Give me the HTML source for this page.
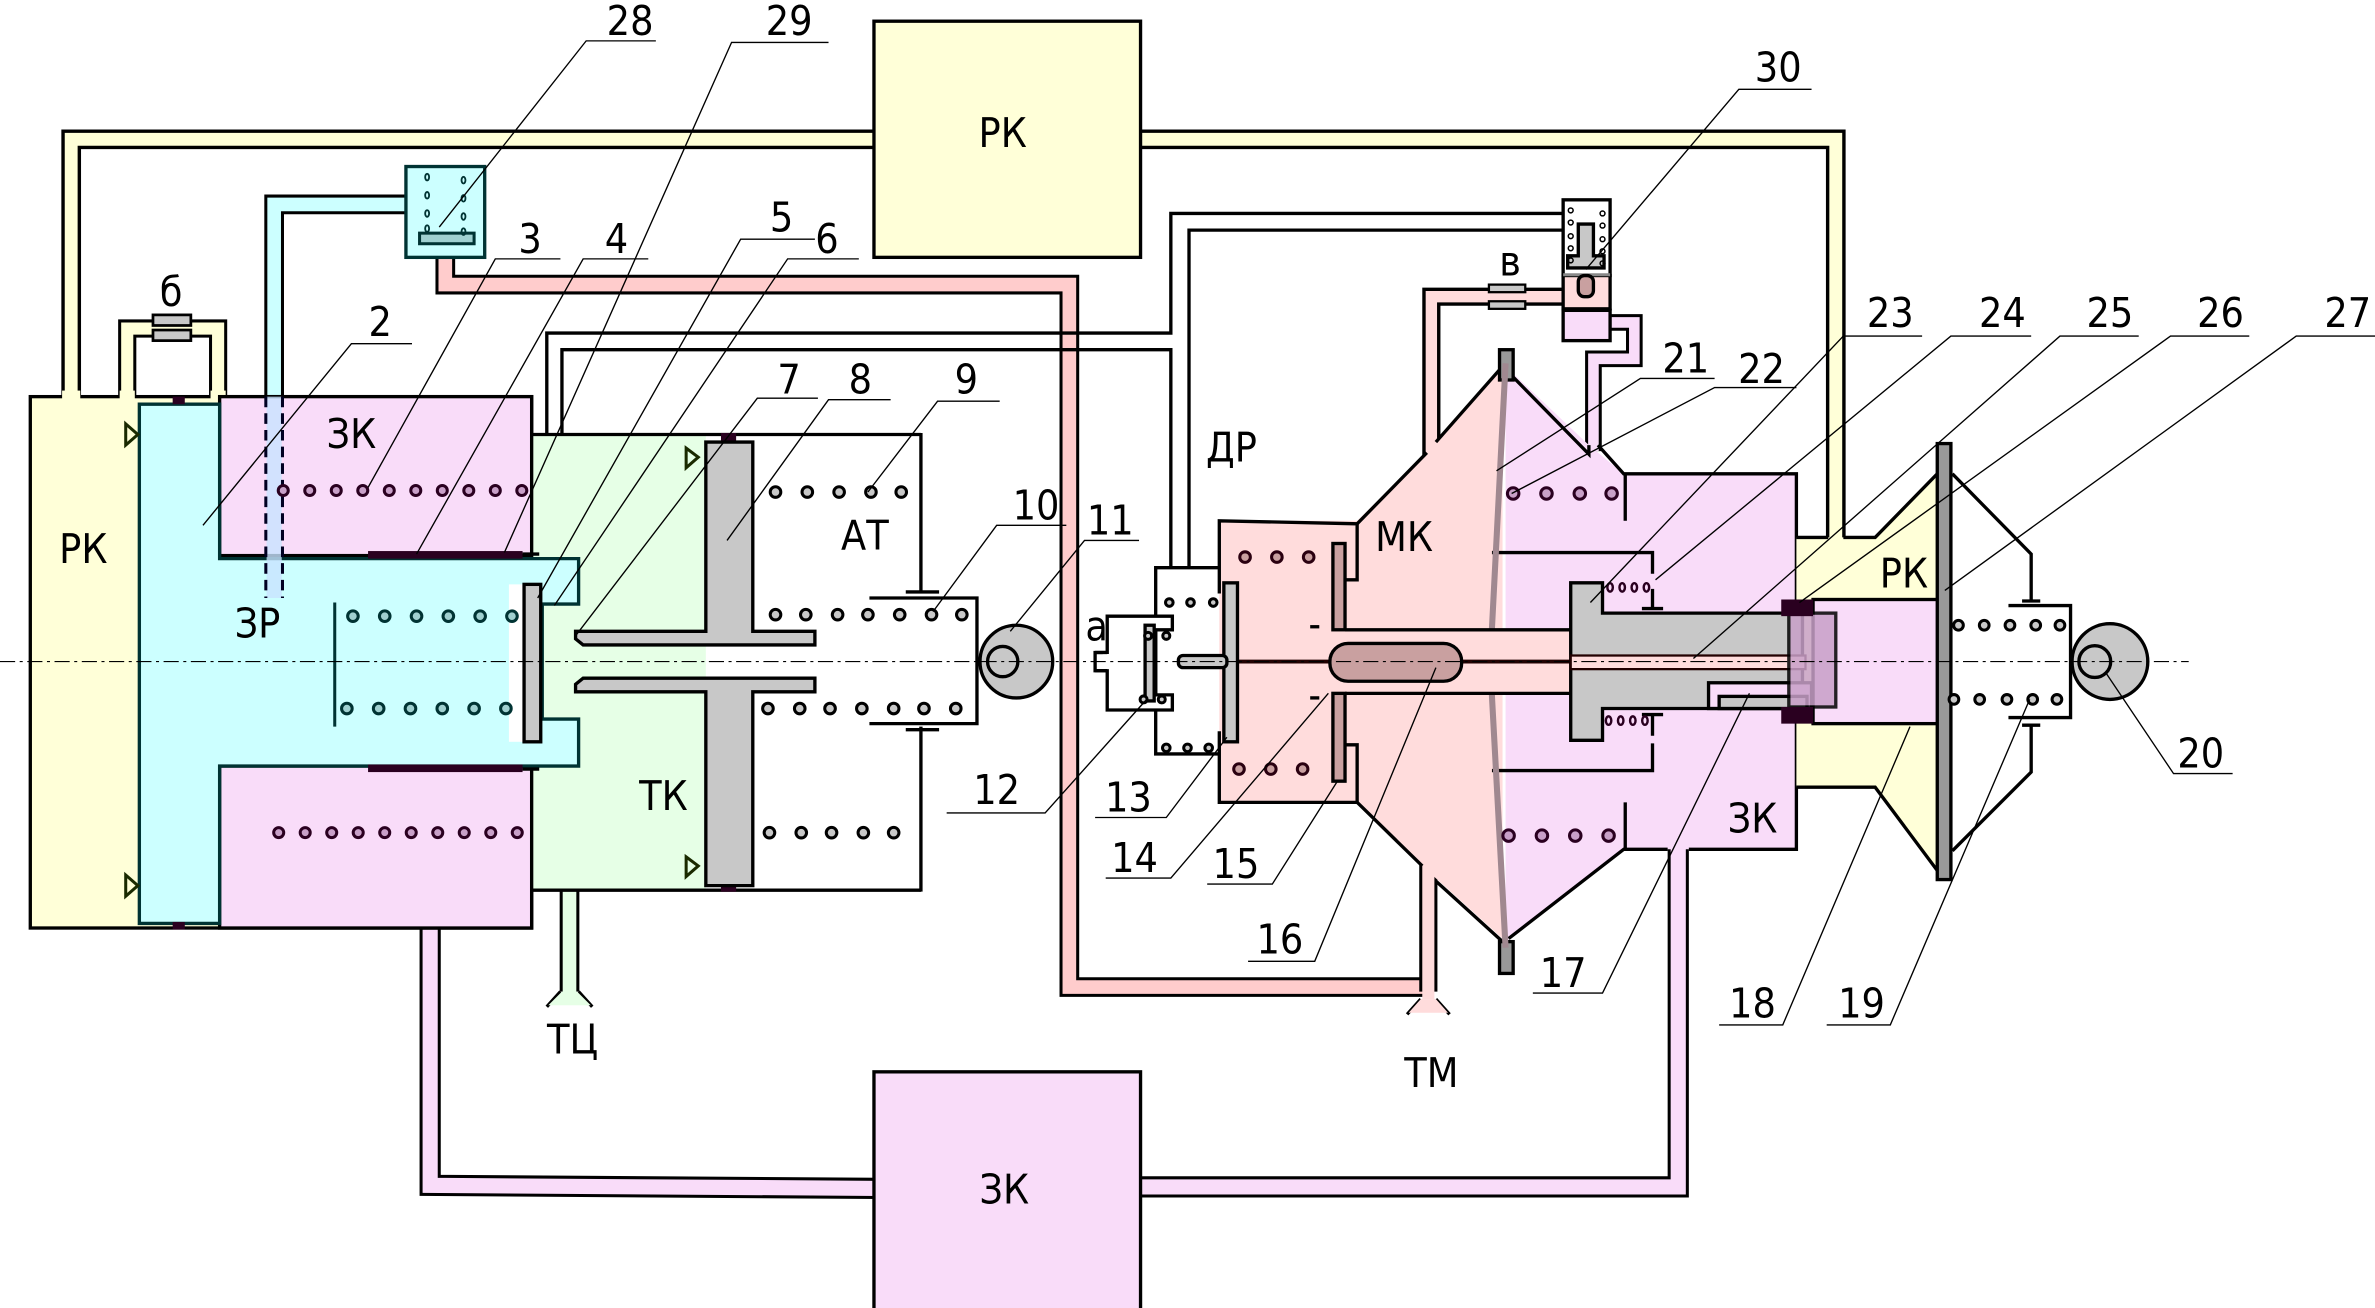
<!DOCTYPE html>
<html><head><meta charset="utf-8"><style>
html,body{margin:0;padding:0;background:#fff;}
svg{display:block;}
text{font-family:"DejaVu Sans Condensed","DejaVu Sans","Liberation Sans",sans-serif;font-size:27px;fill:#000;}
.num{text-anchor:middle;}
.lab{text-anchor:middle;}
.ld{stroke:#000;stroke-width:0.9;fill:none;}
.o{stroke:#000;stroke-width:2.2;}
</style></head><body>
<svg width="2375" height="1308" viewBox="0 0 1568 864" preserveAspectRatio="none" xmlns="http://www.w3.org/2000/svg">
<rect width="1568" height="864" fill="#fff"/>

<g fill="none" stroke-linejoin="miter">
 <polyline points="47,265 47,92 580,92" stroke="#000" stroke-width="13"/>
 <polyline points="47,265 47,92 580,92" stroke="#ffffd8" stroke-width="8.5"/>
 <polyline points="750,92 1212,92 1212,358" stroke="#000" stroke-width="13"/>
 <polyline points="750,92 1212,92 1212,358" stroke="#ffffd8" stroke-width="8.5"/>
 <polyline points="84,265 84,217 144,217 144,265" stroke="#000" stroke-width="12"/>
 <polyline points="84,265 84,217 144,217 144,265" stroke="#ffffd8" stroke-width="8"/>
 <polyline points="181,262 181,135 270,135" stroke="#000" stroke-width="13"/>
 <polyline points="181,262 181,135 270,135" stroke="#ccffff" stroke-width="9"/>
 <polyline points="294,168 294,188 706,188 706,652 945,652" stroke="#000" stroke-width="13"/>
 <polyline points="294,168 294,188 706,188 706,652 945,652" stroke="#ffcccc" stroke-width="9"/>
 <polyline points="284,610 284,783 580,785" stroke="#000" stroke-width="14"/>
 <polyline points="284,610 284,783 580,785" stroke="#f9dcf9" stroke-width="10"/>
 <polyline points="1108,558 1108,784 750,784" stroke="#000" stroke-width="14"/>
 <polyline points="1108,558 1108,784 750,784" stroke="#f9dcf9" stroke-width="10"/>
 <polyline points="376,585 376,655" stroke="#000" stroke-width="13"/>
 <polyline points="376,585 376,658" stroke="#e6ffe6" stroke-width="9"/>
 <polyline points="943,565 943,655" stroke="#000" stroke-width="12"/>
 <polyline points="943,565 943,660" stroke="#ffdcdc" stroke-width="8"/>
 <polyline points="945,302 945,196 1034,196" stroke="#000" stroke-width="12"/>
 <polyline points="945,302 945,196 1034,196" stroke="#ffdcdc" stroke-width="7.5"/>
 <polyline points="1060,213 1079,213 1079,237 1052,237 1052,298" stroke="#000" stroke-width="11"/>
 <polyline points="1060,213 1079,213 1079,237 1052,237 1052,298" stroke="#f9dcf9" stroke-width="7"/>
</g>
<path d="M370,655 L361,665 M382,655 L391,665" class="o" fill="none"/>
<polygon points="371,655 381,655 390,664 362,664" fill="#e6ffe6"/>
<path d="M938,660 L929,670 M948,660 L957,670" class="o" fill="none"/>
<polygon points="938,660 948,660 956,669 930,669" fill="#ffdcdc"/>

<g class="o" fill="none">
 <polyline points="361,364 361,220 773,220 773,141 1032,141"/>
 <polyline points="371,364 371,231 773,231 773,377"/>
 <polyline points="1032,152 785,152 785,377"/>
</g>

<rect x="577" y="14" width="176" height="156" fill="#ffffd8" class="o"/>
<rect x="577" y="708" width="176" height="160" fill="#f9dcf9" class="o"/>

<rect x="20" y="262" width="331" height="351" fill="#ffffd8" class="o"/>
<rect x="41" y="258" width="12" height="6" fill="#ffffd8"/>
<rect x="79" y="258" width="10" height="6" fill="#ffffd8"/>
<rect x="139" y="258" width="10" height="6" fill="#ffffd8"/>
<rect x="350" y="287" width="116" height="301" fill="#e6ffe6"/>
<line x1="350" y1="287" x2="608" y2="287" class="o"/>
<line x1="350" y1="588" x2="608" y2="588" class="o"/>
<line x1="608" y1="286" x2="608" y2="392" class="o"/>
<line x1="608" y1="480" x2="608" y2="589" class="o"/>
<line x1="350" y1="586" x2="350" y2="613" class="o"/>
<rect x="145" y="262" width="206" height="105" fill="#f9dcf9" class="o"/>
<rect x="145" y="506" width="206" height="107" fill="#f9dcf9" class="o"/>
<polygon points="92,267 145,267 145,369 382,369 382,399 358,399 358,475 382,475 382,506 145,506 145,610 92,610" fill="#ccffff" stroke="#003333" stroke-width="2.2"/>
<rect x="336" y="386" width="10" height="104" fill="#fff"/>
<rect x="346" y="386" width="11" height="104" fill="#c8c8c8" class="o"/>
<line x1="221" y1="398" x2="221" y2="480" stroke="#003333" stroke-width="2"/>
<rect x="176" y="262" width="10" height="133" fill="#c8e4ff" opacity="0.8"/>
<line x1="175.5" y1="262" x2="175.5" y2="395" stroke="#002" stroke-width="2" stroke-dasharray="7,4"/>
<line x1="186.5" y1="262" x2="186.5" y2="395" stroke="#002" stroke-width="2" stroke-dasharray="7,4"/>
<g fill="#2a0020">
 <rect x="243" y="364" width="102" height="5"/><rect x="243" y="505" width="102" height="5"/>
 <rect x="114" y="262" width="8" height="5"/><rect x="114" y="609" width="8" height="5"/>
 <rect x="476" y="286" width="10" height="6"/><rect x="476" y="583" width="10" height="6"/>
</g>
<line x1="345" y1="366" x2="356" y2="366" class="o"/>
<line x1="345" y1="508" x2="356" y2="508" class="o"/>
<g fill="none" stroke="#1a2a00" stroke-width="2">
 <polygon points="83,280 91,287 83,294"/><polygon points="83,578 91,585 83,592"/>
 <polygon points="453,296 461,302 453,309"/><polygon points="453,566 461,572 453,579"/>
</g>
<rect x="268" y="110" width="52" height="60" fill="#ccffff" stroke="#003333" stroke-width="2.2"/>
<rect x="277" y="154" width="36" height="7" fill="#a0d0d0" stroke="#003333" stroke-width="2"/>
<g fill="none" stroke="#003333" stroke-width="1.2">
 <ellipse cx="282" cy="117" rx="1.3" ry="2.2"/><ellipse cx="282" cy="129" rx="1.3" ry="2.2"/><ellipse cx="282" cy="141" rx="1.3" ry="2.2"/><ellipse cx="282" cy="151" rx="1.3" ry="2.2"/>
 <ellipse cx="306" cy="119" rx="1.3" ry="2.2"/><ellipse cx="306" cy="131" rx="1.3" ry="2.2"/><ellipse cx="306" cy="143" rx="1.3" ry="2.2"/><ellipse cx="306" cy="153" rx="1.3" ry="2.2"/>
</g>
<rect x="101" y="208" width="25" height="7" fill="#c8c8c8" stroke="#000" stroke-width="1.8"/>
<rect x="101" y="218" width="25" height="7" fill="#c8c8c8" stroke="#000" stroke-width="1.8"/>

<polygon points="466,292 497,292 497,417 538,417 538,426 385,426 380,422 380,417 466,417" fill="#c8c8c8" class="o"/>
<polygon points="466,585 497,585 497,457 538,457 538,448 385,448 380,452 380,457 466,457" fill="#c8c8c8" class="o"/>
<polyline points="574,395 645,395 645,478 574,478" fill="none" class="o"/>
<line x1="598" y1="391" x2="620" y2="391" class="o"/>
<line x1="598" y1="482" x2="620" y2="482" class="o"/>
<circle cx="671" cy="437" r="24" fill="#c8c8c8" class="o"/>
<circle cx="662" cy="437" r="10" fill="none" class="o"/>

<polygon points="763,375 825,375 825,392 814,392 814,483 825,483 825,498 763,498" fill="#fff" class="o"/>
<polygon points="731,407 774,407 774,416 763,416 763,459 774,459 774,469 731,469 731,443 723,443 723,431 731,431" fill="#fff" class="o"/>
<rect x="728" y="432" width="6" height="10" fill="#fff"/>
<line x1="723" y1="431" x2="731" y2="431" class="o"/><line x1="723" y1="443" x2="731" y2="443" class="o"/>

<polygon points="805,344 896,344 942,299 992,242 992,620 939,572 896,530 805,530" fill="#ffdcdc"/>
<polyline points="805,392 805,344 896,346 896,383 888,383" fill="none" class="o"/>
<polyline points="805,483 805,530 896,530 896,492 888,492" fill="none" class="o"/>
<polyline points="896,346 942,299" fill="none" class="o"/>
<polyline points="948,292 992,242" fill="none" class="o"/>
<polyline points="896,530 939,572" fill="none" class="o"/>
<polyline points="948,582 992,622" fill="none" class="o"/>
<polygon points="994,242 1049,294 1072,313 1186,313 1186,561 1072,561 994,622" fill="#f9dcf9"/>
<polyline points="996,246 1049,300 1049,294" fill="none" class="o"/>
<polyline points="1055,294 1072,313 1186,313 1186,561 1115,561" fill="none" class="o"/>
<polyline points="1101,561 1072,561 996,620" fill="none" class="o"/>
<line x1="1073" y1="313" x2="1073" y2="344" class="o"/>
<line x1="1073" y1="530" x2="1073" y2="561" class="o"/>
<polyline points="985,365 1091,365 1091,379" fill="none" class="o"/>
<polyline points="985,509 1091,509 1091,491" fill="none" class="o"/>
<line x1="1084" y1="402" x2="1098" y2="402" class="o"/><line x1="1091" y1="389" x2="1091" y2="402" class="o"/>
<line x1="1084" y1="472" x2="1098" y2="472" class="o"/><line x1="1091" y1="472" x2="1091" y2="486" class="o"/>
<rect x="990" y="231" width="9" height="20" fill="#999" class="o"/>
<rect x="990" y="622" width="9" height="21" fill="#999" class="o"/>
<polyline points="994,240 985,415 985,460 994,626" fill="none" stroke="#a08890" stroke-width="4"/>

<rect x="888" y="416" width="152" height="42" fill="#ffdcdc"/>
<line x1="888" y1="416" x2="1040" y2="416" class="o"/><line x1="888" y1="458" x2="1040" y2="458" class="o"/>
<line x1="814" y1="437" x2="1040" y2="437" stroke="#200" stroke-width="2.5"/>
<rect x="878" y="425" width="87" height="25" rx="12" fill="#c9a0a0" class="o"/>
<rect x="880" y="359" width="8" height="57" fill="#c9a0a0" class="o"/>
<rect x="880" y="458" width="8" height="58" fill="#c9a0a0" class="o"/>
<line x1="865" y1="414" x2="871" y2="414" class="o"/><line x1="865" y1="461" x2="871" y2="461" class="o"/>
<rect x="808" y="385" width="9" height="105" fill="#c8c8c8" class="o"/>
<rect x="756" y="413" width="6" height="50" fill="#c8c8c8" class="o"/>
<rect x="778" y="433" width="32" height="8" rx="3" fill="#c8c8c8" class="o"/>

<polygon points="1186,355 1238,355 1279,313 1279,575 1238,520 1186,520" fill="#ffffd8"/>
<polyline points="1217,355 1238,355 1279,313" fill="none" class="o"/>
<polyline points="1186,520 1238,520 1279,575" fill="none" class="o"/>
<line x1="1207" y1="355" x2="1186" y2="355" class="o"/>
<polygon points="1037,385 1058,385 1058,405 1190,405 1190,468 1058,468 1058,489 1037,489" fill="#c8c8c8" class="o"/>
<rect x="1037" y="433" width="155" height="9" fill="#ffdcdc" stroke="#200" stroke-width="1.5"/>
<rect x="1128" y="451" width="68" height="17" fill="#f9dcf9" class="o"/>
<rect x="1135" y="460" width="58" height="8" fill="#c8c8c8" class="o"/>
<rect x="1197" y="396" width="85" height="82" fill="#f9dcf9" class="o"/>
<rect x="1181" y="405" width="31" height="62" fill="#c8a0c8" opacity="0.85" class="o"/>
<rect x="1176" y="396" width="21" height="11" fill="#2a0020"/>
<rect x="1176" y="467" width="21" height="11" fill="#2a0020"/>
<polyline points="1289,313 1341,366 1341,396" fill="none" class="o"/>
<polyline points="1289,562 1341,510 1341,478" fill="none" class="o"/>
<rect x="1279" y="293" width="9" height="288" fill="#999" class="o"/>
<line x1="1335" y1="397" x2="1347" y2="397" class="o"/><line x1="1335" y1="479" x2="1347" y2="479" class="o"/>
<polyline points="1326,400 1367,400 1367,474 1326,474" fill="none" class="o"/>
<circle cx="1393" cy="437" r="25" fill="#c8c8c8" class="o"/>
<circle cx="1383" cy="437" r="10.5" fill="none" class="o"/>

<rect x="1032" y="132" width="31" height="50" fill="#fff" class="o"/>
<rect x="1032" y="182" width="31" height="22" fill="#ffdcdc" class="o"/>
<rect x="1032" y="205" width="31" height="20" fill="#f9dcf9" class="o"/>
<line x1="1032" y1="181.5" x2="1063" y2="181.5" stroke="#888" stroke-width="2"/>
<rect x="1042" y="182" width="10" height="14" rx="4" fill="#c9a0a0" class="o"/>
<polygon points="1042,148 1052,148 1052,169 1059,169 1059,177 1035,177 1035,169 1042,169" fill="#c8c8c8" class="o"/>
<rect x="983" y="188" width="24" height="5" fill="#c8c8c8" stroke="#000" stroke-width="1.5"/>
<rect x="983" y="199" width="24" height="5" fill="#c8c8c8" stroke="#000" stroke-width="1.5"/>
<g fill="none" stroke="#000" stroke-width="1">
 <circle cx="1037" cy="139" r="1.6"/><circle cx="1037" cy="147" r="1.6"/><circle cx="1037" cy="156" r="1.6"/><circle cx="1037" cy="164" r="1.6"/><circle cx="1037" cy="172" r="1.6"/>
 <circle cx="1058" cy="141" r="1.6"/><circle cx="1058" cy="149" r="1.6"/><circle cx="1058" cy="158" r="1.6"/><circle cx="1058" cy="166" r="1.6"/><circle cx="1058" cy="174" r="1.6"/>
</g>

<g stroke="#2a0020" stroke-width="2" fill="#c8a0c8">
 <circle cx="187" cy="324" r="3.3"/><circle cx="204.5" cy="324" r="3.3"/><circle cx="222" cy="324" r="3.3"/><circle cx="239.5" cy="324" r="3.3"/><circle cx="257" cy="324" r="3.3"/><circle cx="274.5" cy="324" r="3.3"/><circle cx="292" cy="324" r="3.3"/><circle cx="309.5" cy="324" r="3.3"/><circle cx="327" cy="324" r="3.3"/><circle cx="344.5" cy="324" r="3.3"/>
 <circle cx="184" cy="550" r="3.3"/><circle cx="201.5" cy="550" r="3.3"/><circle cx="219" cy="550" r="3.3"/><circle cx="236.5" cy="550" r="3.3"/><circle cx="254" cy="550" r="3.3"/><circle cx="271.5" cy="550" r="3.3"/><circle cx="289" cy="550" r="3.3"/><circle cx="306.5" cy="550" r="3.3"/><circle cx="324" cy="550" r="3.3"/><circle cx="341.5" cy="550" r="3.3"/>
 <circle cx="999" cy="326" r="3.8"/><circle cx="1021" cy="326" r="3.8"/><circle cx="1043" cy="326" r="3.8"/><circle cx="1064" cy="326" r="3.8"/>
 <circle cx="996" cy="552" r="3.8"/><circle cx="1018" cy="552" r="3.8"/><circle cx="1040" cy="552" r="3.8"/><circle cx="1062" cy="552" r="3.8"/>
</g>
<g stroke="#003333" stroke-width="2" fill="#a0d0d0">
 <circle cx="233" cy="407" r="3.5"/><circle cx="254" cy="407" r="3.5"/><circle cx="275" cy="407" r="3.5"/><circle cx="296" cy="407" r="3.5"/><circle cx="317" cy="407" r="3.5"/><circle cx="338" cy="407" r="3.5"/>
 <circle cx="229" cy="468" r="3.5"/><circle cx="250" cy="468" r="3.5"/><circle cx="271" cy="468" r="3.5"/><circle cx="292" cy="468" r="3.5"/><circle cx="313" cy="468" r="3.5"/><circle cx="334" cy="468" r="3.5"/>
</g>
<g stroke="#000" stroke-width="2" fill="#c8c8c8">
 <circle cx="512" cy="325" r="3.5"/><circle cx="533" cy="325" r="3.5"/><circle cx="554" cy="325" r="3.5"/><circle cx="575" cy="325" r="3.5"/><circle cx="595" cy="325" r="3.5"/>
 <circle cx="512" cy="406" r="3.5"/><circle cx="532" cy="406" r="3.5"/><circle cx="553" cy="406" r="3.5"/><circle cx="573" cy="406" r="3.5"/><circle cx="594" cy="406" r="3.5"/><circle cx="615" cy="406" r="3.5"/><circle cx="635" cy="406" r="3.5"/>
 <circle cx="507" cy="468" r="3.5"/><circle cx="528" cy="468" r="3.5"/><circle cx="548" cy="468" r="3.5"/><circle cx="569" cy="468" r="3.5"/><circle cx="590" cy="468" r="3.5"/><circle cx="610" cy="468" r="3.5"/><circle cx="631" cy="468" r="3.5"/>
 <circle cx="508" cy="550" r="3.5"/><circle cx="529" cy="550" r="3.5"/><circle cx="549" cy="550" r="3.5"/><circle cx="570" cy="550" r="3.5"/><circle cx="590" cy="550" r="3.5"/>
 <circle cx="1293" cy="413" r="3.2"/><circle cx="1310" cy="413" r="3.2"/><circle cx="1327" cy="413" r="3.2"/><circle cx="1344" cy="413" r="3.2"/><circle cx="1360" cy="413" r="3.2"/>
 <circle cx="1290" cy="462" r="3.2"/><circle cx="1307" cy="462" r="3.2"/><circle cx="1325" cy="462" r="3.2"/><circle cx="1342" cy="462" r="3.2"/><circle cx="1358" cy="462" r="3.2"/>
 <circle cx="772" cy="398" r="2.5"/><circle cx="786" cy="398" r="2.5"/><circle cx="801" cy="398" r="2.5"/>
 <circle cx="770" cy="494" r="2.5"/><circle cx="784" cy="494" r="2.5"/><circle cx="798" cy="494" r="2.5"/>
 <circle cx="758" cy="420" r="2.3"/><circle cx="770" cy="420" r="2.3"/>
 <circle cx="755" cy="462" r="2.3"/><circle cx="767" cy="462" r="2.3"/>
</g>
<g stroke="#2a0010" stroke-width="2" fill="#c9a0a0">
 <circle cx="822" cy="368" r="3.5"/><circle cx="843" cy="368" r="3.5"/><circle cx="864" cy="368" r="3.5"/>
 <circle cx="818" cy="508" r="3.5"/><circle cx="839" cy="508" r="3.5"/><circle cx="860" cy="508" r="3.5"/>
</g>
<g stroke="#2a0020" stroke-width="1.6" fill="none">
 <ellipse cx="1063" cy="388" rx="1.8" ry="2.8"/><ellipse cx="1071" cy="388" rx="1.8" ry="2.8"/><ellipse cx="1079" cy="388" rx="1.8" ry="2.8"/><ellipse cx="1087" cy="388" rx="1.8" ry="2.8"/>
 <ellipse cx="1062" cy="476" rx="1.8" ry="2.8"/><ellipse cx="1070" cy="476" rx="1.8" ry="2.8"/><ellipse cx="1078" cy="476" rx="1.8" ry="2.8"/><ellipse cx="1086" cy="476" rx="1.8" ry="2.8"/>
</g>

<line x1="0" y1="437" x2="1445" y2="437" stroke="#000" stroke-width="0.8" stroke-dasharray="10,3,2,3"/>

<g class="ld">
 <polyline points="433,27 387,27 290,150"/>
 <polyline points="547,28 483,28 333,365"/>
 <polyline points="370,171 327,171 243,322"/>
 <polyline points="428,171 385,171 275,366"/>
 <polyline points="538,158 489,158 355,395"/>
 <polyline points="567,171 520,171 366,400"/>
 <polyline points="540,263 500,263 380,420"/>
 <polyline points="588,264 547,264 480,357"/>
 <polyline points="660,265 619,265 573,325"/>
 <polyline points="704,347 658,347 616,404"/>
 <polyline points="752,357 716,357 667,417"/>
 <polyline points="625,537 690,537 757,462"/>
 <polyline points="723,540 770,540 810,487"/>
 <polyline points="730,580 773,580 877,458"/>
 <polyline points="797,584 840,584 883,516"/>
 <polyline points="824,635 868,635 948,441"/>
 <polyline points="1012,656 1058,656 1155,458"/>
 <polyline points="1135,677 1177,677 1261,480"/>
 <polyline points="1206,677 1248,677 1340,462"/>
 <polyline points="1474,511 1435,511 1390,444"/>
 <polyline points="1132,250 1083,250 988,311"/>
 <polyline points="1186,256 1132,256 998,326"/>
 <polyline points="1269,222 1217,222 1050,398"/>
 <polyline points="1341,222 1288,222 1093,383"/>
 <polyline points="1412,222 1360,222 1118,435"/>
 <polyline points="1485,222 1433,222 1188,398"/>
 <polyline points="1568,222 1516,222 1284,390"/>
 <polyline points="1196,59 1148,59 1047,178"/>
 <polyline points="272,227 232,227 134,347"/>
</g>

<g class="num">
 <text x="416" y="23">28</text><text x="521" y="23">29</text>
 <text x="350" y="167">3</text><text x="407" y="167">4</text>
 <text x="516" y="153">5</text><text x="546" y="167">6</text>
 <text x="521" y="260">7</text><text x="568" y="260">8</text><text x="638" y="260">9</text>
 <text x="684" y="343">10</text><text x="733" y="353">11</text>
 <text x="658" y="531">12</text><text x="745" y="536">13</text><text x="749" y="576">14</text>
 <text x="816" y="580">15</text><text x="845" y="630">16</text><text x="1032" y="652">17</text>
 <text x="1157" y="672">18</text><text x="1229" y="672">19</text><text x="1453" y="507">20</text>
 <text x="1113" y="246">21</text><text x="1163" y="253">22</text>
 <text x="1248" y="216">23</text><text x="1322" y="216">24</text><text x="1393" y="216">25</text>
 <text x="1466" y="216">26</text><text x="1550" y="216">27</text>
 <text x="1174" y="54">30</text><text x="251" y="222">2</text>
</g>
<g class="lab">
 <text x="662" y="97">РК</text><text x="55" y="372">РК</text>
 <text x="232" y="296">ЗК</text><text x="170" y="421">ЗР</text>
 <text x="571" y="363">АТ</text><text x="438" y="535">ТК</text>
 <text x="813" y="305">ДР</text><text x="927" y="364">МК</text>
 <text x="724" y="423">а</text><text x="997" y="182">в</text>
 <text x="113" y="202">б</text><text x="1257" y="388">РК</text>
 <text x="1157" y="550">ЗК</text><text x="378" y="696">ТЦ</text>
 <text x="945" y="718">ТМ</text><text x="663" y="795">ЗК</text>
</g>
</svg>
</body></html>
